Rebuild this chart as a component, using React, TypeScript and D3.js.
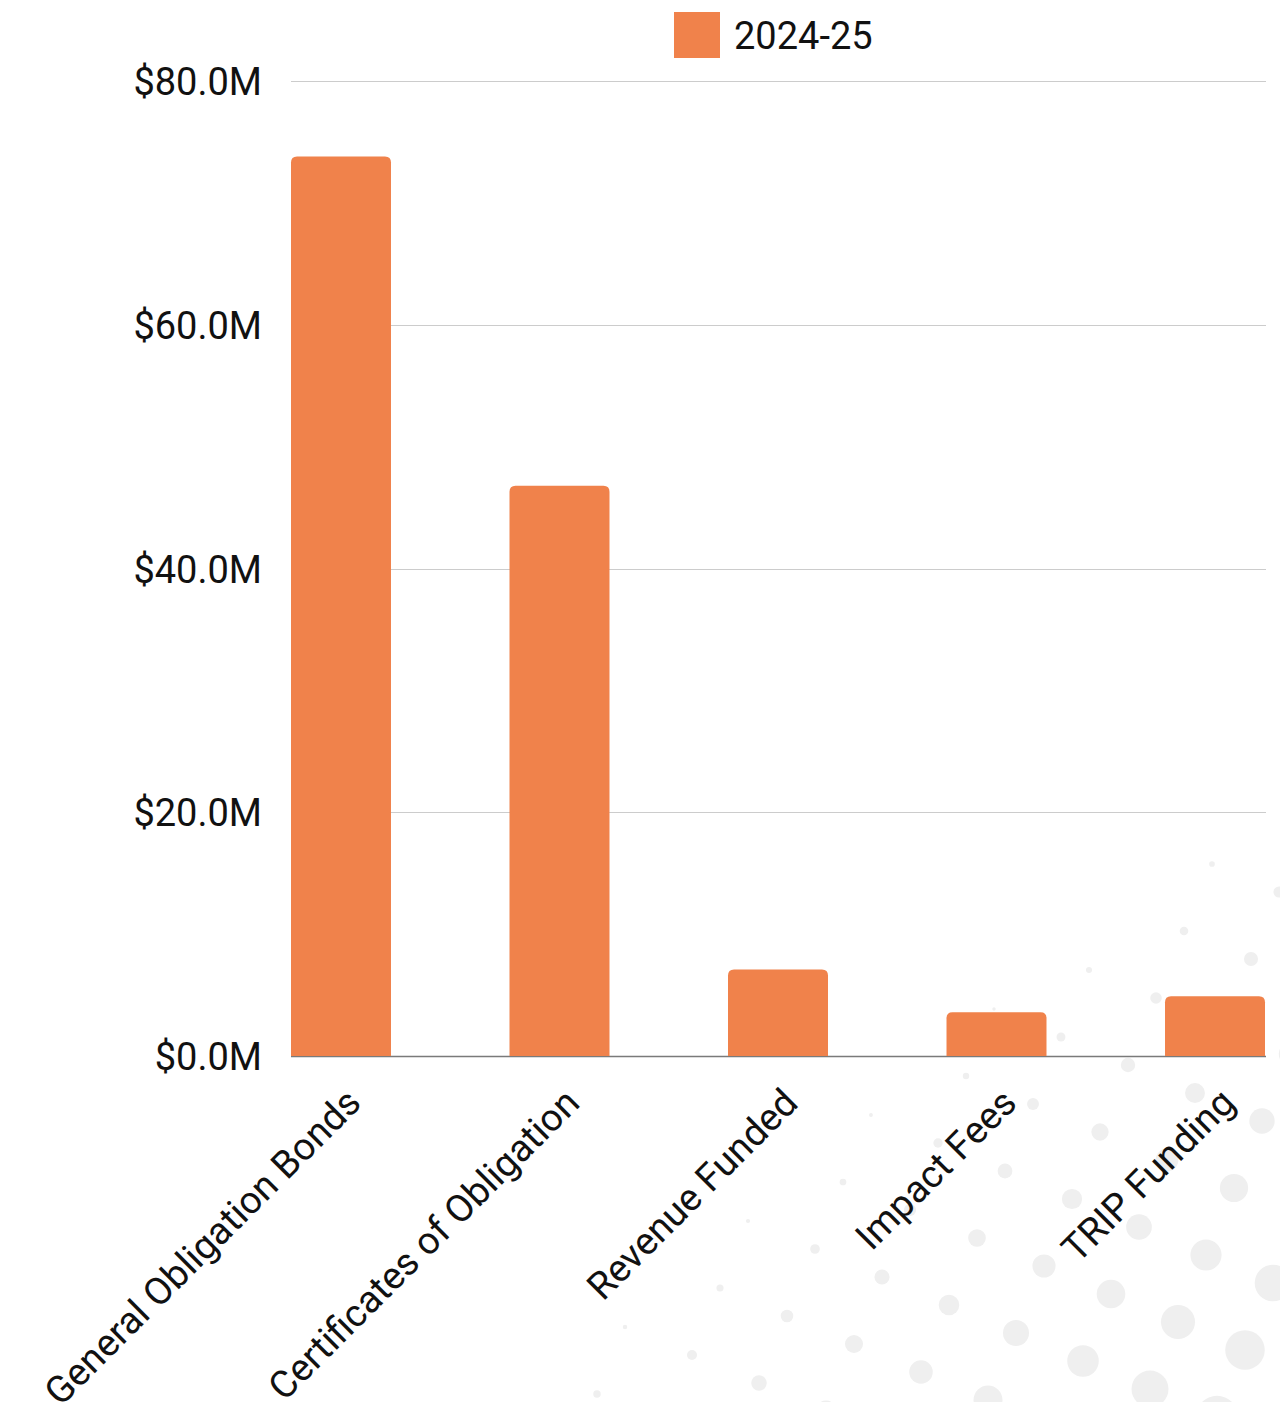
import React, { useEffect } from "react";
import * as d3 from "d3";

const categories = [
  "General Obligation Bonds",
  "Certificates of Obligation",
  "Revenue Funded",
  "Impact Fees",
  "TRIP Funding",
];
const values2024_25 = [73.8, 46.8, 7.1, 3.6, 4.9]; // $M
const yTicks = [0, 20, 40, 60, 80];
const seriesName = "2024-25";

const W = 1280;
const H = 1402;
const BAR = "#F0824B";
const FONT = "Roboto, 'Noto Sans', sans-serif";

function topRoundedBar(x: number, y: number, w: number, h: number, r: number) {
  const rr = Math.min(r, h, w / 2);
  return `M${x},${y + h}V${y + rr}Q${x},${y} ${x + rr},${y}H${x + w - rr}Q${x + w},${y} ${x + w},${y + rr}V${y + h}Z`;
}

export default function App() {
  useEffect(() => {
    document.body.style.margin = "0";
  }, []);

  const y = d3.scaleLinear().domain([0, 80]).range([1056, 81]);
  const x = d3
    .scaleBand<string>()
    .domain(categories)
    .range([291, 1265])
    .paddingInner(0.5424)
    .paddingOuter(0);

  // decorative halftone dot pattern in the background
  const dots: { cx: number; cy: number; r: number }[] = [];
  const base = [1033, 1104];
  const a = [67, 28];
  const b = [-28, 67];
  for (let i = -15; i <= 15; i++) {
    for (let j = -15; j <= 15; j++) {
      const cx = base[0] + i * a[0] + j * b[0];
      const cy = base[1] + i * a[1] + j * b[1];
      if (cx < -30 || cx > W + 30 || cy < -30 || cy > H + 30) continue;
      let r = 0.027 * cx + 0.033 * cy - 58.4;
      if (r < 1.6) continue;
      r = Math.min(r, 24);
      dots.push({ cx, cy, r });
    }
  }

  const FS = 38;

  return (
    <svg width={W} height={H} style={{ display: "block", background: "#fff" }} fontFamily={FONT}>
      <g>
        {dots.map((d, i) => (
          <circle key={i} cx={d.cx} cy={d.cy} r={d.r} fill="#efefef" />
        ))}
      </g>
      {/* legend */}
      <rect x={674} y={12} width={46} height={46} fill={BAR} />
      <text x={734} y={49} fontSize={FS} fill="#111">
        {seriesName}
      </text>
      {/* gridlines */}
      {yTicks.map((t) => (
        <g key={t}>
          <line
            x1={291}
            x2={1266}
            y1={Math.round(y(t)) + 0.5}
            y2={Math.round(y(t)) + 0.5}
            stroke={t === 0 ? "#7a7a7a" : "#cccccc"}
            strokeWidth={t === 0 ? 1.5 : 1}
          />
          <text
            x={262}
            y={y(t) + 14}
            fontSize={FS}
            textAnchor="end"
            fill="#111"
          >
            {"$" + t.toFixed(1) + "M"}
          </text>
        </g>
      ))}
      {/* bars */}
      {categories.map((c, i) => (
        <path
          key={c}
          d={topRoundedBar(x(c)!, y(values2024_25[i]), x.bandwidth(), y(0) - y(values2024_25[i]), 6)}
          fill={BAR}
        />
      ))}
      {/* x labels */}
      {categories.map((c) => {
        const cx = x(c)! + x.bandwidth() / 2 + 22;
        const cy = 1105;
        return (
          <text
            key={c}
            transform={`translate(${cx},${cy}) rotate(-45)`}
            textAnchor="end"
            fontSize={FS}
            fill="#111"
          >
            {c}
          </text>
        );
      })}
    </svg>
  );
}
